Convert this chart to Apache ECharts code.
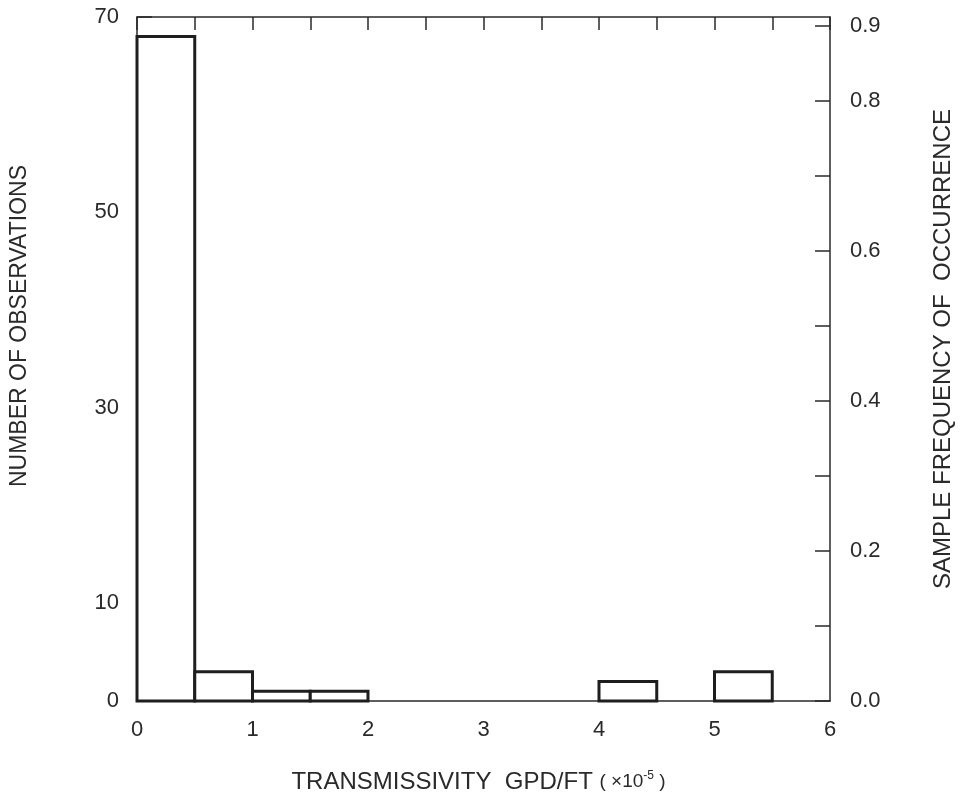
<!DOCTYPE html>
<html>
<head>
<meta charset="utf-8">
<script src="https://cdn.jsdelivr.net/npm/echarts@6/dist/echarts.min.js"></script>
<style>
  html, body { margin: 0; padding: 0; background: #fff; }
  #chart { width: 963px; height: 806px; }
</style>
</head>
<body>
<div id="chart"></div>
<script>
// histogram bins (x10^-5 GPD/FT) and counts
const binStart = [0, 0.5, 1, 1.5, 4, 5]
const counts = [68, 3, 1, 1, 2, 3]
const binWidth = 0.5
const leftLabels = [0, 10, 30, 50, 70]
const rightLabels = [0, 0.2, 0.4, 0.6, 0.8, 0.9]

const ink = '#2a2a2a'
const font = 'Liberation Sans'

const chart = echarts.init(document.getElementById('chart'))

const data = binStart.map((s, i) => [s, counts[i]])

const option = {
  backgroundColor: '#fff',
  animation: false,
  grid: { left: 136, right: 128, top: 17, bottom: 105 },
  xAxis: [
    {
      type: 'value',
      position: 'bottom',
      min: 0,
      max: 6,
      interval: 1,
      axisLine: { show: true, onZero: false, lineStyle: { color: ink, width: 1.5 } },
      axisTick: { show: false },
      splitLine: { show: false },
      axisLabel: { color: ink, fontSize: 22, fontFamily: font, margin: 18 },
      name: '{a|TRANSMISSIVITY  GPD/FT}  {b|( ×10}{s|-5}{b| )}',
      nameLocation: 'middle',
      nameGap: 69,
      nameTextStyle: {
        padding: [0, 10, 0, 0],
        rich: {
          a: { fontSize: 24, fontFamily: font, color: ink },
          b: { fontSize: 19, fontFamily: font, color: ink },
          s: { fontSize: 12, fontFamily: font, color: ink, verticalAlign: 'top', padding: [0, 0, 9, 0] }
        }
      }
    },
    {
      type: 'value',
      position: 'top',
      min: 0,
      max: 6,
      interval: 0.5,
      axisLine: { show: true, onZero: false, lineStyle: { color: ink, width: 1.5 } },
      axisTick: { show: true, inside: true, length: 13, lineStyle: { color: ink, width: 1.5 } },
      axisLabel: { show: false },
      splitLine: { show: false }
    }
  ],
  yAxis: [
    {
      type: 'value',
      position: 'left',
      min: 0,
      max: 70,
      interval: 10,
      axisLine: { show: true, onZero: false, lineStyle: { color: ink, width: 1.5 } },
      axisTick: { show: true, inside: true, length: 15, lineStyle: { color: ink, width: 1.5 } },
      splitLine: { show: false },
      axisLabel: {
        color: ink, fontSize: 22, fontFamily: font, margin: 18,
        formatter: v => leftLabels.includes(v) ? String(v) : ''
      },
      name: 'NUMBER OF OBSERVATIONS',
      nameLocation: 'middle',
      nameRotate: 90,
      nameGap: 106,
      nameTextStyle: { color: ink, fontSize: 23, fontFamily: font, padding: [0, 0, 0, 66] }
    },
    {
      type: 'value',
      position: 'right',
      min: 0,
      max: 0.912,
      interval: 0.1,
      axisLine: { show: true, onZero: false, lineStyle: { color: ink, width: 1.5 } },
      axisTick: { show: true, inside: true, length: 15, lineStyle: { color: ink, width: 1.5 } },
      splitLine: { show: false },
      axisLabel: {
        color: ink, fontSize: 22, fontFamily: font, margin: 20,
        showMaxLabel: false,
        formatter: v => {
          const t = Math.round(v * 1000) / 1000
          return rightLabels.some(r => Math.abs(r - t) < 1e-6) ? t.toFixed(1) : ''
        }
      },
      name: 'SAMPLE FREQUENCY OF  OCCURRENCE',
      nameLocation: 'middle',
      nameRotate: 90,
      nameGap: 101,
      nameTextStyle: { color: ink, fontSize: 24, fontFamily: font, padding: [0, 0, 0, 20] }
    }
  ],
  series: [
    {
      type: 'custom',
      xAxisIndex: 0,
      yAxisIndex: 0,
      data: data,
      renderItem: (params, api) => {
        const x0 = api.value(0)
        const c = api.value(1)
        const p0 = api.coord([x0, 0])
        const p1 = api.coord([x0 + binWidth, c])
        return {
          type: 'rect',
          shape: { x: p0[0], y: p1[1], width: p1[0] - p0[0], height: p0[1] - p1[1] },
          style: { fill: '#fff', stroke: '#1e1e1e', lineWidth: 3 }
        }
      }
    }
  ]
}

chart.setOption(option)
</script>
</body>
</html>
